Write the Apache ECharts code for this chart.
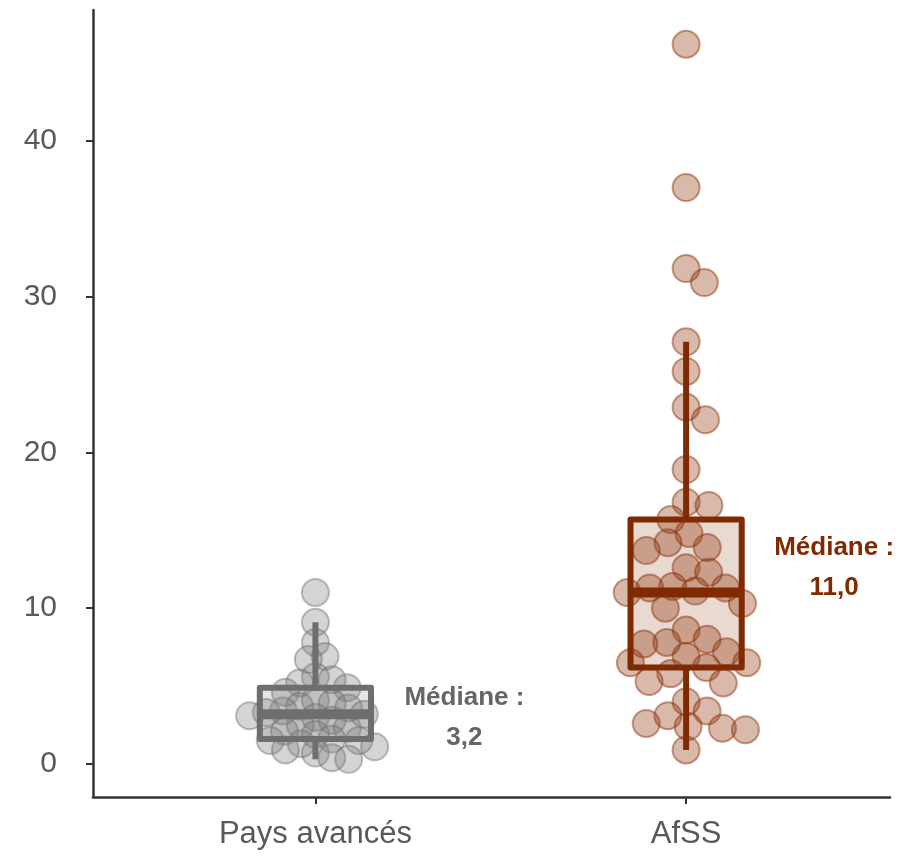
<!DOCTYPE html>
<html>
<head>
<meta charset="utf-8">
<script src="https://cdn.jsdelivr.net/npm/echarts@6/dist/echarts.min.js"></script>
<style>
  html, body { margin: 0; padding: 0; background: #ffffff; }
  #chart { width: 904px; height: 857px; }
</style>
</head>
<body>
<div id="chart"></div>
<script>
// Group names shown under the x axis
const categories = ['Pays avancés', 'AfSS'];

// Observed values per group
const paysAvances = [11.0, 9.1, 7.8, 6.9, 6.7, 5.6, 5.4, 5.2, 4.9, 4.6, 4.1, 3.9, 3.7, 3.6, 3.4,
  3.3, 3.2, 3.1, 3.0, 2.8, 2.5, 2.3, 2.1, 1.9, 1.6, 1.5, 1.5, 1.3, 1.1, 0.9, 0.7, 0.4, 0.3];
const afss = [46.2, 37.0, 31.8, 30.9, 27.1, 25.2, 22.9, 22.1, 18.9, 16.8, 16.6, 15.7, 14.8, 14.2,
  13.9, 13.7, 12.6, 12.3, 11.4, 11.3, 11.3, 11.1, 11.0, 10.3, 10.0, 8.6, 8.0, 7.8, 7.7, 7.2, 6.9,
  6.5, 6.5, 6.2, 5.8, 5.3, 5.2, 4.0, 3.4, 3.1, 2.6, 2.4, 2.3, 2.2, 0.9];

// Y axis tick labels
const yTicks = [0, 10, 20, 30, 40];

const groups = [paysAvances, afss];

// Visual styling per group
const palette = [
  { line: '#6e6e6e', boxFill: 'rgba(110,110,110,0.18)', dot: 'rgba(128,128,128,0.42)', dotBorder: 'rgba(110,110,110,0.55)', text: '#666666' },
  { line: '#7f2a00', boxFill: 'rgba(127,42,0,0.18)', dot: 'rgba(150,60,20,0.45)', dotBorder: 'rgba(140,50,10,0.6)', text: '#7f2a00' }
];
const swarmSpacing = [17, 23];                 // min centre distance (px) between dots of a group
const labelOffset = [[149, 4], [148, -25]];    // px offset of the median note from the box centre
const BOX_HALF = 0.15;                          // half box width in x-axis units
const FONT = '"Liberation Sans", Arial, sans-serif';

function quantile(sorted, p) {
  const pos = (sorted.length - 1) * p;
  const lo = Math.floor(pos), hi = Math.ceil(pos);
  return sorted[lo] + (sorted[hi] - sorted[lo]) * (pos - lo);
}

function boxStats(values) {
  const s = values.slice().sort((a, b) => a - b);
  const q1 = quantile(s, 0.25), med = quantile(s, 0.5), q3 = quantile(s, 0.75);
  const iqr = q3 - q1;
  const lowFence = q1 - 1.5 * iqr, highFence = q3 + 1.5 * iqr;
  const lo = s.find(v => v >= lowFence);
  const hi = s.slice().reverse().find(v => v <= highFence);
  return [lo, q1, med, q3, hi];
}

const stats = groups.map(boxStats);

const chart = echarts.init(document.getElementById('chart'), null, { renderer: 'canvas' });

const axisLineStyle = { color: '#333333', width: 2.5 };

chart.setOption({
  animation: false,
  backgroundColor: '#ffffff',
  grid: { left: 93, right: 14, top: 10, bottom: 60, containLabel: false },
  xAxis: {
    type: 'value',
    min: -0.6,
    max: 1.55,
    splitLine: { show: false },
    axisLine: { show: true, onZero: false, lineStyle: axisLineStyle },
    axisTick: { show: true, length: 7, lineStyle: { color: '#333333', width: 2 }, customValues: [0, 1] },
    axisLabel: {
      customValues: [0, 1],
      formatter: v => categories[Math.round(v)],
      fontSize: 31, color: '#595959', fontFamily: FONT, margin: 22
    }
  },
  yAxis: {
    type: 'value',
    min: -2.12,
    max: 48.4,
    splitLine: { show: false },
    axisLine: { show: true, onZero: false, lineStyle: axisLineStyle },
    axisTick: { show: true, length: 7, lineStyle: { color: '#333333', width: 2 }, customValues: yTicks },
    axisLabel: { customValues: yTicks, fontSize: 30, color: '#595959', fontFamily: FONT, margin: 36 }
  },
  series: []
});

// Beeswarm layout: spread points horizontally so that centres keep a minimum pixel distance
function swarmOffsets(values, minDist) {
  const placed = [];
  return values.map(v => {
    const y = chart.convertToPixel({ gridIndex: 0 }, [0, v])[1];
    const cands = [0];
    placed.forEach(p => {
      const dy = Math.abs(p.y - y);
      if (dy < minDist) {
        const dx = Math.sqrt(minDist * minDist - dy * dy);
        cands.push(p.x + dx, p.x - dx);
      }
    });
    cands.sort((a, b) => Math.abs(a) - Math.abs(b));
    const best = cands.find(c => placed.every(p => (p.x - c) ** 2 + (p.y - y) ** 2 >= minDist * minDist - 1e-6));
    placed.push({ x: best, y });
    return best;
  });
}

const x0 = chart.convertToPixel({ gridIndex: 0 }, [0, 0])[0];
const x1 = chart.convertToPixel({ gridIndex: 0 }, [1, 0])[0];
const pxPerUnitX = x1 - x0;

const scatterSeries = groups.map((vals, gi) => {
  const offs = swarmOffsets(vals, swarmSpacing[gi]);
  return {
    type: 'scatter',
    name: categories[gi],
    symbol: 'circle',
    symbolSize: 27,
    z: 2,
    itemStyle: { color: palette[gi].dot, borderColor: palette[gi].dotBorder, borderWidth: 2 },
    data: vals.map((v, i) => [gi + offs[i] / pxPerUnitX, v])
  };
});

const boxSeries = {
  type: 'custom',
  z: 5,
  data: stats.map((s, gi) => [gi].concat(s)),
  renderItem: function (params, api) {
    const gi = api.value(0);
    const pal = palette[gi];
    const pMin = api.coord([gi, api.value(1)]);
    const pQ1 = api.coord([gi, api.value(2)]);
    const pMed = api.coord([gi, api.value(3)]);
    const pQ3 = api.coord([gi, api.value(4)]);
    const pMax = api.coord([gi, api.value(5)]);
    const cx = pMed[0];
    const half = api.size([BOX_HALF, 0])[0];
    const med = api.value(3);
    const off = labelOffset[gi];
    const lineW = 6;
    return {
      type: 'group',
      children: [
        { type: 'line', shape: { x1: cx, y1: pQ3[1], x2: cx, y2: pMax[1] }, style: { stroke: pal.line, lineWidth: lineW } },
        { type: 'line', shape: { x1: cx, y1: pQ1[1], x2: cx, y2: pMin[1] }, style: { stroke: pal.line, lineWidth: lineW } },
        {
          type: 'rect',
          shape: { x: cx - half, y: pQ3[1], width: 2 * half, height: pQ1[1] - pQ3[1] },
          style: { fill: pal.boxFill, stroke: pal.line, lineWidth: lineW, lineJoin: 'round' }
        },
        {
          type: 'rect',
          shape: { x: cx - half, y: pMed[1] - 5, width: 2 * half, height: 10 },
          style: { fill: pal.line }
        },
        {
          type: 'text',
          x: cx + off[0],
          y: pMed[1] + off[1],
          style: {
            text: 'Médiane :\n' + med.toFixed(1).replace('.', ','),
            x: 0, y: 0,
            align: 'center', verticalAlign: 'middle',
            font: 'bold 26px ' + FONT,
            lineHeight: 40,
            fill: pal.text
          }
        }
      ]
    };
  }
};

chart.setOption({ series: scatterSeries.concat([boxSeries]) });
</script>
</body>
</html>
